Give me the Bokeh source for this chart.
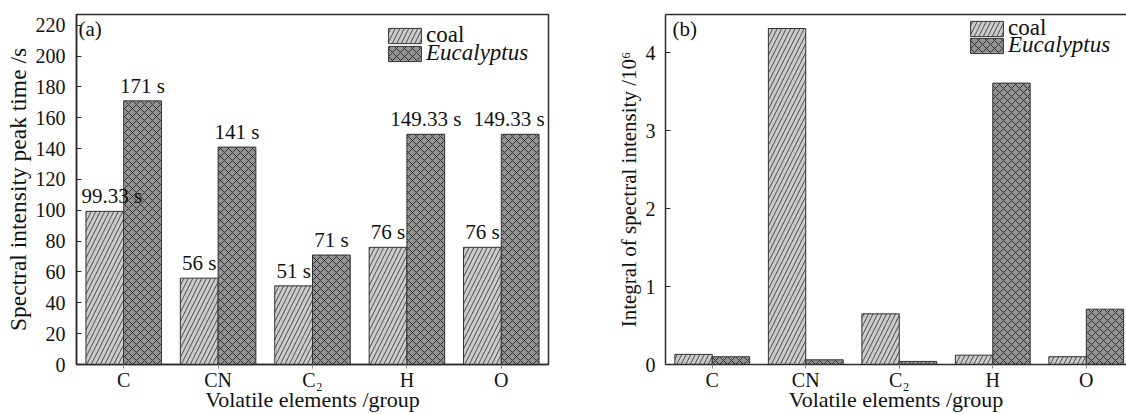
from bokeh.plotting import figure
from bokeh.layouts import row
from bokeh.models import (ColumnDataSource, LabelSet, Label, Legend, LegendItem,
                          LinearAxis, Range1d, FixedTicker)
from bokeh.embed import file_html
from bokeh.resources import INLINE

# ---- data ----
groups = ["C", "CN", "C₂", "H", "O"]
peak_coal = [99.33, 56, 51, 76, 76]
peak_euc = [171, 141, 71, 149.33, 149.33]
integ_coal = [0.13, 4.31, 0.65, 0.12, 0.10]
integ_euc = [0.10, 0.06, 0.04, 3.61, 0.71]
yticks_a = [0, 20, 40, 60, 80, 100, 120, 140, 160, 180, 200, 220]
yticks_b = [0, 1, 2, 3, 4]
xtitle = "Volatile elements /group"

FONT = "Liberation Serif"
AX = "#2b2b2b"
TXT = "#111111"
COAL_FILL, COAL_HATCH = "#cbcbcb", "#4a4a4a"
EUC_FILL, EUC_HATCH = "#929292", "#333333"
BAR_LINE = "#333333"

idx = list(range(1, len(groups) + 1))
x_coal = [i - 0.2 for i in idx]
x_euc = [i + 0.2 for i in idx]


def style(p, yticks, ytitle, ytitle_size):
    p.xgrid.visible = False
    p.ygrid.visible = False
    p.xaxis.ticker = FixedTicker(ticks=idx)
    p.xaxis.major_label_overrides = {i: g for i, g in zip(idx, groups)}
    p.yaxis.ticker = FixedTicker(ticks=yticks)
    for ax in (p.xaxis[0], p.yaxis[0]):
        ax.axis_line_color = AX
        ax.axis_line_width = 1.5
        ax.major_tick_line_color = AX
        ax.minor_tick_line_color = None
        ax.major_label_text_font = FONT
        ax.major_label_text_font_size = "20px"
        ax.major_label_text_color = TXT
        ax.axis_label_text_font = FONT
        ax.axis_label_text_font_style = "normal"
        ax.axis_label_text_color = TXT
    p.yaxis.major_tick_in = 5
    p.yaxis.major_tick_out = 0
    p.yaxis.major_label_standoff = 11
    p.yaxis.axis_label = ytitle
    p.yaxis.axis_label_text_font_size = ytitle_size
    p.yaxis.axis_label_standoff = 2
    p.xaxis.major_tick_in = 0
    p.xaxis.major_tick_out = 4
    p.xaxis.major_tick_line_color = "#888888"
    p.xaxis.major_label_standoff = 0
    p.xaxis.axis_label = xtitle
    p.xaxis.axis_label_text_font_size = "22px"
    p.xaxis.axis_label_standoff = -7


def bars(p, coal, euc):
    src_c = ColumnDataSource(dict(x=x_coal, top=coal))
    src_e = ColumnDataSource(dict(x=x_euc, top=euc))
    rc = p.vbar(x="x", top="top", width=0.4, bottom=0, source=src_c,
                fill_color=COAL_FILL, line_color=BAR_LINE, line_width=1,
                hatch_pattern="/", hatch_color=COAL_HATCH, hatch_scale=9, hatch_weight=1)
    re = p.vbar(x="x", top="top", width=0.4, bottom=0, source=src_e,
                fill_color=EUC_FILL, line_color=BAR_LINE, line_width=1,
                hatch_pattern="x", hatch_color=EUC_HATCH, hatch_scale=8, hatch_weight=1)
    return rc, re


def legends(p, rc, re, vx, vy1, vy2):
    for r, name, style_, vy in ((rc, "coal", "normal", vy1), (re, "Eucalyptus", "italic", vy2)):
        lg = Legend(items=[LegendItem(label=name, renderers=[r])], location=(vx, vy),
                    padding=0, margin=0, spacing=0, border_line_color=None,
                    background_fill_alpha=0, glyph_width=41, glyph_height=19,
                    label_height=19, label_standoff=1,
                    label_text_font=FONT, label_text_font_size="23px",
                    label_text_font_style=style_, label_text_color=TXT)
        p.add_layout(lg)


# ---- panel (a) ----
p1 = figure(width=563, height=414, x_range=Range1d(0.5, 5.5), y_range=Range1d(0, 227),
            output_backend="svg", toolbar_location=None,
            min_border_left=76, min_border_right=15, min_border_top=14, min_border_bottom=50)
p1.outline_line_color = AX
p1.outline_line_width = 1.5
style(p1, yticks_a, "Spectral intensity peak time /s", "23.5px")
rc1, re1 = bars(p1, peak_coal, peak_euc)

lab_x = x_coal + x_euc
# labels next to the frame edges are nudged inward so they stay inside the frame
lab_off = [7 if x == min(lab_x) else (-11 if x == max(lab_x) else 0) for x in lab_x]
lab_src = ColumnDataSource(dict(
    x=lab_x,
    y=peak_coal + peak_euc,
    t=[f"{v:g} s" for v in peak_coal + peak_euc],
    dx=lab_off))
p1.add_layout(LabelSet(x="x", y="y", text="t", source=lab_src, text_align="center",
                       text_baseline="alphabetic", y_offset=8, x_offset="dx", text_font=FONT,
                       text_font_size="21px", text_color=TXT))
p1.add_layout(Label(x=0.5, y=227, x_offset=2, y_offset=-2, text="(a)", text_baseline="top",
                    text_font=FONT, text_font_size="21px", text_color=TXT))
legends(p1, rc1, re1, 308, 316, 298)

# ---- panel (b) ----
p2 = figure(width=563, height=414, x_range=Range1d(0.5, 5.43), y_range=Range1d(0, 4.49),
            output_backend="svg", toolbar_location=None,
            min_border_left=102, min_border_right=0, min_border_top=14, min_border_bottom=50)
p2.outline_line_color = None
style(p2, yticks_b, "Integral of spectral intensity /10⁶", "21px")
p2.yaxis.major_label_standoff = 10
top_ax = LinearAxis(ticker=FixedTicker(ticks=[]), major_label_text_font_size="0px",
                    axis_line_color=AX, axis_line_width=1.5, major_tick_line_color=None,
                    minor_tick_line_color=None)
p2.add_layout(top_ax, "above")
rc2, re2 = bars(p2, integ_coal, integ_euc)
p2.add_layout(Label(x=0.5, y=4.49, x_offset=7, y_offset=-2, text="(b)", text_baseline="top",
                    text_font=FONT, text_font_size="21px", text_color=TXT))
legends(p2, rc2, re2, 301, 323, 306)

layout = row(p1, p2)
open("out.html", "w").write(file_html(layout, INLINE))
